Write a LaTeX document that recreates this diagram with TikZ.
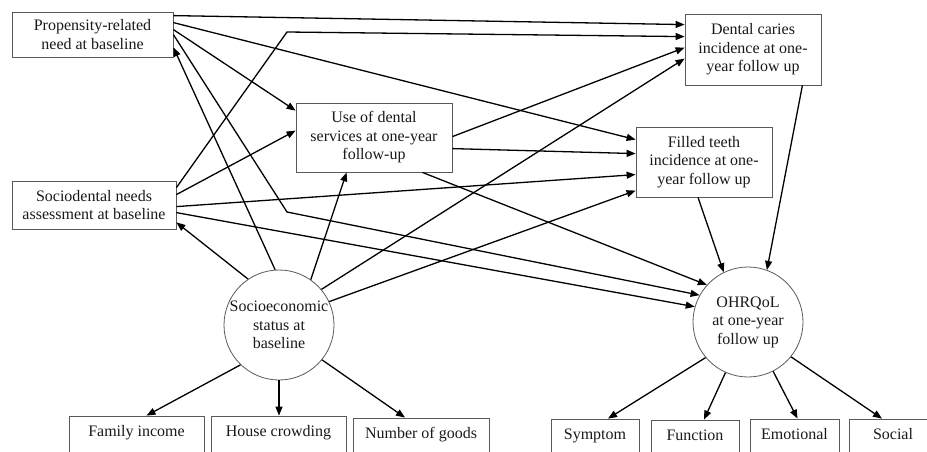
\documentclass[tikz,border=0pt]{standalone}
\usepackage{fontspec}
\setmainfont{Liberation Serif}
\usetikzlibrary{arrows.meta,calc}
\begin{document}
\begin{tikzpicture}[x=1pt,y=-1pt,
  font=\fontsize{16}{18.5}\selectfont,
  box/.style={draw=black!65,line width=0.8pt,rectangle,align=center,inner sep=0pt,text=black!90},
  lowbox/.style={box,minimum height=40pt,text height=12pt,text depth=12pt},
  latent/.style={draw=black!65,line width=0.8pt,circle,minimum size=110pt,inner sep=0pt,align=center,text=black!90},
  arr/.style={-{Triangle[length=9pt,width=7pt]},line width=1.3pt,black}]
\useasboundingbox (0,0) rectangle (927,452);
\clip (0,0) rectangle (927,452);
% nodes
\node[box,minimum width=161pt,minimum height=45pt] (prop) at (92.5,34.5) {Propensity-related\\need at baseline};
\node[box,minimum width=164pt,minimum height=48pt] (soc) at (94,205) {Sociodental needs\\assessment at baseline};
\node[box,minimum width=156pt,minimum height=69pt] (use) at (374,137.5) {Use of dental\\services at one-year\\follow-up};
\node[box,minimum width=136pt,minimum height=71pt] (caries) at (753,49.5) {Dental caries\\incidence at one-\\year follow up};
\node[box,minimum width=136pt,minimum height=70pt] (filled) at (704,162) {Filled teeth\\incidence at one-\\year follow up};
\node[latent] (ses) at (279,325) {Socioeconomic\\status at\\baseline};
\node[latent] (ohr) at (748,322) {OHRQoL\\at one-year\\follow up};
\node[lowbox,minimum width=135pt] (family) at (136.5,436) {Family income};
\node[lowbox,minimum width=135pt] (house) at (278.5,436) {House crowding};
\node[lowbox,minimum width=136pt] (goods) at (421,438) {Number of goods};
\node[lowbox,minimum width=88pt] (symptom) at (595,439) {Symptom};
\node[lowbox,minimum width=88pt] (function) at (695,440) {Function};
\node[lowbox,minimum width=89pt] (emotional) at (794.5,439) {Emotional};
\node[lowbox,minimum width=88pt] (social) at (893,439) {Social};
\coordinate (k1) at (287,212);
\coordinate (k2) at (287,32);
% connectors from propensity
\draw[arr] ($(prop.north east)+(0,4)$) -- ($(caries.north west)+(0,11)$);
\draw[arr] ($(prop.north east)+(0,11)$) -- ($(filled.north west)+(0,13)$);
\draw[arr] ($(prop.north east)+(0,18)$) -- ($(use.north west)+(0,8)$);
\draw[arr] ($(prop.north east)+(0,23)$) -- (k1) -- (ohr.151);
% from sociodental
\draw[arr] ($(soc.north east)+(0,7)$) -- (k2) -- ($(caries.north west)+(0,23)$);
\draw[arr] ($(soc.north east)+(0,14)$) -- ($(use.north west)+(0,28)$);
\draw[arr] ($(soc.north east)+(0,26)$) -- ($(filled.north west)+(0,48)$);
\draw[arr] ($(soc.north east)+(0,32)$) -- (ohr.164);
% from use
\draw[arr] ($(use.north east)+(0,34)$) -- ($(caries.north west)+(0,34)$);
\draw[arr] ($(use.north east)+(0,46)$) -- ($(filled.north west)+(0,27)$);
\draw[arr] ($(use.south east)+(-30,0)$) -- (ohr.138);
% from SES
\draw[arr] (ses.94) -- ($(prop.south east)+(0,-10)$);
\draw[arr] (ses.124) -- ($(soc.south east)+(0,-7)$);
\draw[arr] (ses.55) -- ($(use.south west)+(51,0)$);
\draw[arr] (ses.40) -- ($(caries.north west)+(0,45)$);
\draw[arr] (ses.25) -- ($(filled.north west)+(0,64)$);
\draw[arr] (ses.226) -- ($(family.north)+(10,0)$);
\draw[arr] (ses.south) -- (ses.south |- house.north);
\draw[arr] (ses.321) -- ($(goods.north)+(-16,0)$);
% to OHRQoL
\draw[arr] ($(caries.south east)+(-19,0)$) -- (ohr.70);
\draw[arr] ($(filled.south)+(-6,0)$) -- (ohr.116);
% from OHRQoL
\draw[arr] (ohr.220) -- ($(symptom.north)+(13,0)$);
\draw[arr] (ohr.246) -- ($(function.north)+(9,0)$);
\draw[arr] (ohr.297) -- ($(emotional.north)+(3,0)$);
\draw[arr] (ohr.321) -- ($(social.north)+(-11,0)$);
\end{tikzpicture}
\end{document}
